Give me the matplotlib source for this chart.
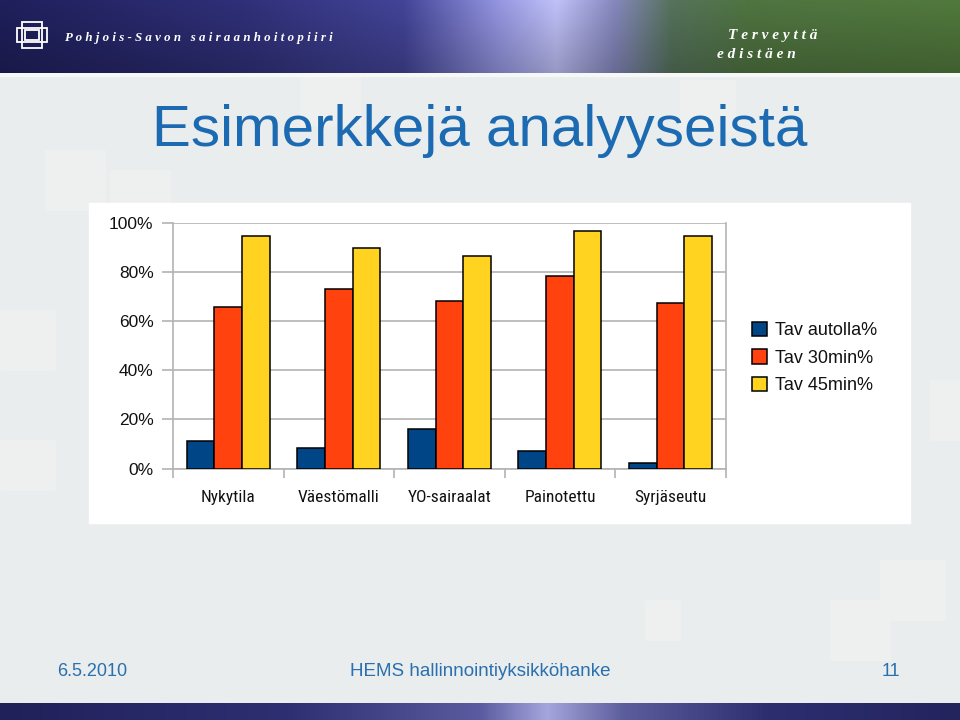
import numpy as np
import matplotlib
matplotlib.use("Agg")
import matplotlib.pyplot as plt
from matplotlib.colors import to_rgb
from matplotlib.patches import Rectangle
from matplotlib import font_manager as fm

# ---------------- data ----------------
categories = ["Nykytila", "Väestömalli", "YO-sairaalat", "Painotettu", "Syrjäseutu"]
series_names = ["Tav autolla%", "Tav 30min%", "Tav 45min%"]
tav_autolla = [11.4, 8.4, 16.3, 7.1, 2.2]
tav_30min = [65.9, 73.2, 68.3, 78.2, 67.5]
tav_45min = [94.6, 89.6, 86.6, 96.6, 94.6]
y_ticks = [0, 20, 40, 60, 80, 100]
y_tick_labels = ["0%", "20%", "40%", "60%", "80%", "100%"]

title = "Esimerkkejä analyyseistä"
footer_date = "6.5.2010"
footer_center = "HEMS hallinnointiyksikköhanke"
footer_page = "11"

colors = ["#004586", "#ff420e", "#ffd320"]

W, H = 960, 720
fig = plt.figure(figsize=(9.6, 7.2), dpi=100)
fig.patch.set_facecolor("#e9eded")

def px_axes(x0, y0, x1, y1, **kw):
    return fig.add_axes([x0 / W, 1 - y1 / H, (x1 - x0) / W, (y1 - y0) / H], **kw)

def gradient(stops, n=480):
    xs = np.linspace(0, 1, n)
    pos = [s[0] for s in stops]
    cols = np.array([to_rgb(s[1]) for s in stops])
    return np.stack([np.interp(xs, pos, cols[:, i]) for i in range(3)], axis=-1)

# pick a condensed sans font if one is installed
cond_family = "Liberation Sans"
cond_size = 11.5
names = {f.name for f in fm.fontManager.ttflist}
for cand in ["Liberation Sans Narrow", "DejaVu Sans Condensed", "Roboto Condensed",
             "Open Sans Condensed", "Arial Narrow"]:
    if cand in names:
        cond_family = cand
        cond_size = 12.5
        break
else:
    for f in fm.fontManager.ttflist:
        if f.name == "DejaVu Sans" and str(f.stretch) in ("condensed", "semi-condensed"):
            cond_family = None
            break

# ---------------- background (slide) ----------------
bg = px_axes(0, 0, W, H)
bg.set_xlim(0, W); bg.set_ylim(H, 0); bg.axis("off")
bg.add_patch(Rectangle((0, 0), W, H, color="#e9eded", zorder=0))
for (x, y, w, h) in [(45, 150, 60, 60), (110, 170, 60, 60), (300, 70, 60, 55), (680, 80, 55, 50),
                     (0, 310, 55, 60), (0, 440, 55, 50), (880, 560, 65, 60), (830, 600, 60, 60),
                     (645, 600, 35, 40), (930, 380, 30, 60)]:
    bg.add_patch(Rectangle((x, y), w, h, color="#eef0f0", zorder=1))

# header band
hdr = px_axes(0, 0, W, 73)
hstops = [(0.0, "#1d1d55"), (0.25, "#2c2c70"), (0.42, "#3e3f8c"), (0.52, "#8a8bd0"),
          (0.58, "#b2b3e6"), (0.64, "#7c7eb0"), (0.70, "#4f6a55"), (0.78, "#4a6c3c"), (1.0, "#4b7038")]
row = gradient(hstops)
vert = np.linspace(1.08, 0.85, 60)[:, None, None]
img = np.clip(row[None, :, :] * vert, 0, 1)
hdr.imshow(img, aspect="auto", extent=[0, W, 73, 0])
hdr.set_xlim(0, W); hdr.set_ylim(73, 0); hdr.axis("off")
hdr.text(65, 38, "   ".join(" ".join(w) for w in "Pohjois-Savon sairaanhoitopiiri".split()),
         color="white", fontsize=9.3, family="Liberation Serif", style="italic",
         fontweight="bold", va="center", ha="left")
hdr.text(728, 35, " ".join("Terveyttä"), color="white", fontsize=11, family="Liberation Serif",
         style="italic", fontweight="bold", va="center", ha="left")
hdr.text(717, 54, " ".join("edistäen"), color="white", fontsize=11, family="Liberation Serif",
         style="italic", fontweight="bold", va="center", ha="left")
for (x, y, w, h) in [(22, 22, 20, 26), (17, 28, 30, 14), (25, 30, 14, 10)]:
    hdr.add_patch(Rectangle((x, y), w, h, fill=False, ec="white", lw=1.3))
bg.add_patch(Rectangle((0, 73), W, 3, color="#f6f7f7", zorder=2))

# footer band
ftr = px_axes(0, 703, W, H)
fstops = [(0.0, "#20215a"), (0.3, "#2e2f72"), (0.5, "#5a5ba0"), (0.57, "#a5a6dc"),
          (0.65, "#5c5d9c"), (0.8, "#2d2e70"), (1.0, "#23245e")]
frow = gradient(fstops)
ftr.imshow(frow[None, :, :], aspect="auto", extent=[0, W, H, 703])
ftr.set_xlim(0, W); ftr.set_ylim(H, 703); ftr.axis("off")

# title & footer text
fig.text(480 / W, 1 - 125 / H, title, color="#1b6ab2", fontsize=42,
         family="Liberation Sans", ha="center", va="center_baseline")
fcol = "#2a6fae"
fig.text(57 / W, 1 - 672 / H, footer_date, color=fcol, fontsize=13, family="Liberation Sans",
         ha="left", va="center")
fig.text(480 / W, 1 - 672 / H, footer_center, color=fcol, fontsize=13.5, family="Liberation Sans",
         ha="center", va="center")
fig.text(900 / W, 1 - 672 / H, footer_page, color=fcol, fontsize=13, family="Liberation Sans",
         ha="right", va="center")

# white chart panel
bg.add_patch(Rectangle((89, 203), 821, 320, color="white", zorder=3))

# ---------------- chart ----------------
ax = px_axes(173, 222.7, 725.7, 468.7)
ax.set_facecolor("white")
x = np.arange(len(categories)) + 0.5
width = 0.25
series = [tav_autolla, tav_30min, tav_45min]
for i, (vals, name, c) in enumerate(zip(series, series_names, colors)):
    ax.bar(x + (i - 1) * width, vals, width, color=c, edgecolor="black", linewidth=1.1,
           label=name, zorder=3)

ax.set_xlim(0, len(categories))
ax.set_ylim(0, 100)
gc = "#b3b3b3"
ax.set_yticks(y_ticks)
ax.set_yticklabels(y_tick_labels, family="Liberation Sans", fontsize=12.5, color="#111111")
ax.yaxis.grid(True, color=gc, linewidth=1.2, zorder=0)
ax.tick_params(axis="y", length=8, color=gc, width=1.2, pad=6)
ax.set_xticks(x)
if cond_family is None:
    ax.set_xticklabels(categories, family="DejaVu Sans", stretch="condensed",
                       fontsize=11.5, color="#111111")
else:
    ax.set_xticklabels(categories, family=cond_family, fontsize=cond_size, color="#111111")
ax.tick_params(axis="x", which="major", length=0, pad=15)
ax.set_xticks(np.arange(len(categories) + 1), minor=True)
ax.tick_params(axis="x", which="minor", length=6.5, color=gc, width=1.2)
for s in ["left", "right", "bottom"]:
    ax.spines[s].set_color(gc)
    ax.spines[s].set_linewidth(1.2)
ax.spines["top"].set_visible(False)
ax.set_axisbelow(True)

leg = ax.legend(loc="center left", bbox_to_anchor=(752 / W, 1 - 358 / H),
                bbox_transform=fig.transFigure, frameon=False, borderpad=0, borderaxespad=0,
                handlelength=0.85, handleheight=0.85, handletextpad=0.45, labelspacing=0.55,
                prop={"family": "Liberation Sans", "size": 13})
for t in leg.get_texts():
    t.set_color("#111111")

fig.savefig("out.png", dpi=100, facecolor=fig.get_facecolor())
